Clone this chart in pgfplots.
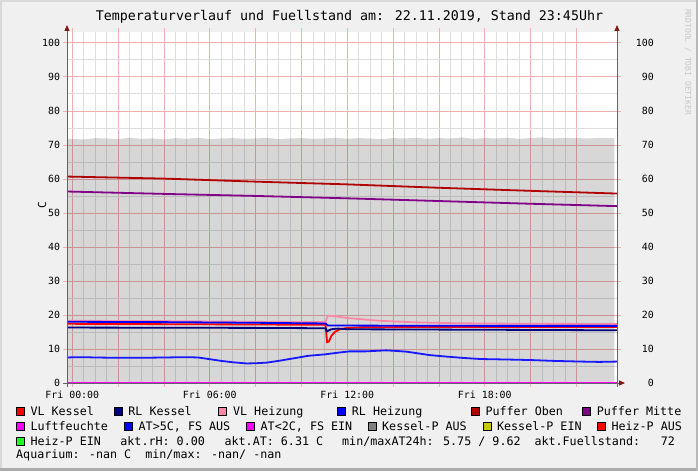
\documentclass[border=0pt]{standalone}
\usepackage{fontspec}
\setmainfont{DejaVu Sans Mono}
\usepackage{pgfplots}
\pgfplotsset{compat=1.18}
\usetikzlibrary{arrows.meta}

\definecolor{bgc}{RGB}{240,240,240}
\definecolor{mgrid}{RGB}{240,176,176}
\definecolor{mingrid}{RGB}{222,222,222}
\definecolor{axc}{RGB}{100,100,100}
\definecolor{arrc}{RGB}{128,24,24}
\definecolor{vlkessel}{RGB}{255,0,0}
\definecolor{rlkessel}{RGB}{0,0,128}
\definecolor{vlheiz}{RGB}{255,136,168}
\definecolor{rlheiz}{RGB}{0,0,255}
\definecolor{pufoben}{RGB}{176,0,0}
\definecolor{pufmitte}{RGB}{128,0,136}
\definecolor{luft}{RGB}{255,0,255}
\definecolor{atblue}{RGB}{24,24,255}
\definecolor{kpaus}{RGB}{128,128,128}
\definecolor{kpein}{RGB}{200,200,0}
\definecolor{hpein}{RGB}{32,255,32}

\newcommand{\lgfont}{\fontsize{11.7}{12}\selectfont}
\newcommand{\lgbox}[3]{% x, y-center, colour
  \filldraw[fill=#3, draw=black, line width=0.6pt] (#1-4,#2-4) rectangle (#1+4,#2+4);}

\begin{document}
\begin{tikzpicture}[x=1pt,y=1pt]
\fill[bgc] (0,0) rectangle (698,471);
\useasboundingbox (0,0) rectangle (698,471);
% frame
\fill[black!15] (0,469) rectangle (698,471);
\fill[black!15] (0,0) rectangle (2,471);
\fill[black!33] (0,0) rectangle (698,3);
\fill[black!28] (696,0) rectangle (698,471);

\node[font=\fontsize{13.3}{14}\selectfont] at (349.5,454) {Temperaturverlauf und Fuellstand am: 22.11.2019, Stand 23:45Uhr};
\node[rotate=90, font=\fontsize{11}{12}\selectfont] at (42,266) {C};
\node[rotate=-90, font=\fontsize{8}{9}\selectfont, text=black!22] at (688,409) {RRDTOOL / TOBI OETIKER};

\begin{axis}[
  at={(67pt,88pt)}, anchor=south west, scale only axis,
  width=550pt, height=351pt,
  xmin=-0.23, xmax=23.77, ymin=0, ymax=103.2,
  xtick={0,2,...,22},
  xticklabels={Fri 00:00,,,Fri 06:00,,,Fri 12:00,,,Fri 18:00,,},
  minor x tick num=3,
  ytick={0,10,...,100}, minor y tick num=1,
  grid=both,
  major grid style={color=mgrid, line width=0.8pt},
  minor grid style={color=mingrid, line width=0.8pt},
  axis line style={draw=none},
  tick align=outside, major tick length=4pt, minor tick length=0pt,
  tick style={color=mgrid, line width=0.8pt},
  ticklabel style={font=\fontsize{9.9}{10}\selectfont, inner sep=0pt},
  yticklabel style={anchor=east, xshift=-2.7pt},
  xticklabel style={anchor=north, yshift=-4pt},
  /pgf/number format/assume math mode=true,
  clip=false,
  axis background/.style={fill=white},
]
% Fuellstand area
\addplot[draw=none, fill=black, fill opacity=0.155] coordinates {
 (-0.23,71.8) (0.5,71.6) (1,72.0) (1.5,71.9) (2,71.7) (2.5,72.1) (3,71.8) (3.5,71.9)
 (4,71.6) (4.5,72.0) (5,71.8) (5.5,72.1) (6,71.7) (6.5,71.9) (7,72.0) (7.5,71.8)
 (8,71.9) (8.5,72.1) (9,71.7) (9.5,71.9) (10,72.0) (10.5,71.8) (11,71.9) (11.5,72.1)
 (12,71.8) (12.5,72.0) (13,71.9) (13.5,71.7) (14,72.0) (14.5,71.9) (15,72.1) (15.5,71.8)
 (16,72.0) (16.5,71.9) (17,72.2) (17.5,71.8) (18,72.0) (18.5,71.9) (19,72.1) (19.5,71.8)
 (20,72.0) (20.5,72.2) (21,71.9) (21.5,72.1) (22,72.0) (22.5,71.9) (23,72.1) (23.65,72.0)
} \closedcycle;

% VL Kessel
\addplot[vlkessel, line width=1.8pt] coordinates {
 (-0.23,17.4) (4,17.3) (8,17.2) (11.05,17.1) (11.12,12.0) (11.2,12.2) (11.3,13.8)
 (11.45,15.0) (11.65,15.7) (11.9,16.1) (12.3,16.3) (13,16.4) (18,16.5) (23.77,16.5)
};
% RL Kessel
\addplot[rlkessel, line width=1.8pt] coordinates {
 (-0.23,16.3) (4,16.25) (8,16.2) (11.05,16.1) (11.12,15.2) (11.3,15.8) (11.6,16.0)
 (12,15.8) (16,15.7) (20,15.6) (23.77,15.5)
};
% VL Heizung
\addplot[vlheiz, line width=1.8pt] coordinates {
 (-0.23,18.3) (4,18.2) (8,18.0) (11.05,17.9) (11.15,19.8) (11.5,19.6) (12,19.1)
 (13.4,18.3) (14.9,17.85) (16.5,17.6) (17.8,17.5) (20,17.4) (23.77,17.35)
};
% RL Heizung
\addplot[rlheiz, line width=1.8pt] coordinates {
 (-0.23,18.0) (4,17.9) (8,17.7) (11.05,17.5) (11.15,16.9) (14,16.85) (18,16.8) (23.77,16.8)
};
% Puffer Oben
\addplot[pufoben, line width=1.8pt] coordinates {
 (-0.23,60.7) (4,60.1) (8,59.2) (12,58.4) (16,57.4) (20,56.5) (23.77,55.7)
};
% Puffer Mitte
\addplot[pufmitte, line width=1.8pt] coordinates {
 (-0.23,56.3) (4,55.6) (8,55.0) (12,54.3) (16,53.5) (20,52.7) (23.77,52.0)
};
% Aussentemperatur
\addplot[atblue, line width=1.8pt] coordinates {
 (-0.23,7.5) (0,7.55) (0.5,7.6) (1,7.5) (2,7.4) (3,7.4) (4,7.5) (5,7.6) (5.5,7.5)
 (6,7.0) (6.5,6.5) (7,6.1) (7.6,5.75) (8,5.8) (8.5,6.0) (9,6.5) (9.7,7.3) (10.3,8.0)
 (11,8.4) (11.7,9.0) (12.1,9.3) (12.8,9.3) (13.7,9.6) (14.2,9.4) (14.6,9.2) (15.1,8.7)
 (15.6,8.2) (16.35,7.75) (17,7.4) (17.8,7.05) (19,6.9) (20,6.75) (21,6.5) (22.2,6.3)
 (23,6.2) (23.77,6.3)
};
% Luftfeuchte
\addplot[luft, line width=1.8pt] coordinates {(-0.23,0) (23.77,0)};

% axis lines with arrows
\draw[axc, line width=1pt, -{Triangle[length=6pt,width=5pt,color=arrc]}]
  ([yshift=-4pt]rel axis cs:0,0) -- ([yshift=7pt]rel axis cs:0,1);
\draw[axc, line width=1pt, -{Triangle[length=6pt,width=5pt,color=arrc]}]
  ([yshift=-4pt]rel axis cs:1,0) -- ([yshift=7pt]rel axis cs:1,1);
\draw[axc, line width=1pt, -{Triangle[length=6pt,width=5pt,color=arrc]}]
  ([xshift=-4pt]rel axis cs:0,0) -- ([xshift=8pt]rel axis cs:1,0);
\end{axis}

% right-hand tick labels
\begin{axis}[
  at={(67pt,88pt)}, anchor=south west, scale only axis,
  width=550pt, height=351pt,
  xmin=-0.23, xmax=23.77, ymin=0, ymax=103.2,
  hide x axis, axis y line*=right, y axis line style={draw=none},
  ytick={0,10,...,100}, major tick length=0pt,
  ticklabel style={font=\fontsize{9.9}{10}\selectfont, inner sep=0pt},
  yticklabel style={anchor=east, xshift=37pt},
  /pgf/number format/assume math mode=true,
]
\end{axis}

% legend
\begin{scope}[every node/.style={anchor=base west, inner sep=0pt, font=\lgfont}]
% row 1
\lgbox{20.5}{60}{vlkessel}   \node at (30.3,56) {VL Kessel};
\lgbox{118.5}{60}{rlkessel}  \node at (128.2,56) {RL Kessel};
\lgbox{222.5}{60}{vlheiz}    \node at (232.9,56) {VL Heizung};
\lgbox{341.5}{60}{rlheiz}    \node at (351.7,56) {RL Heizung};
\lgbox{475}{60}{pufoben}     \node at (485.3,56) {Puffer Oben};
\lgbox{586.5}{60}{pufmitte}  \node at (596.6,56) {Puffer Mitte};
% row 2
\lgbox{20.5}{45}{luft}       \node at (30.3,41) {Luftfeuchte};
\lgbox{128.5}{45}{rlheiz}    \node at (138.5,41) {AT>5C, FS AUS};
\lgbox{250.5}{45}{luft}      \node at (260.5,41) {AT<2C, FS EIN};
\lgbox{372}{45}{kpaus}       \node at (382,41) {Kessel-P AUS};
\lgbox{487}{45}{kpein}       \node at (496.9,41) {Kessel-P EIN};
\lgbox{601.5}{45}{vlkessel}  \node at (611.3,41) {Heiz-P AUS};
% row 3
\lgbox{20.5}{30}{hpein}      \node at (30.3,26) {Heiz-P EIN};
\node at (120.2,26) {akt.rH: 0.00};
\node at (224.4,26) {akt.AT: 6.31 C};
\node at (342,26) {min/maxAT24h: 5.75 / 9.62};
\node at (534.3,26) {akt.Fuellstand:};
\node at (660.7,26) {72};
% row 4
\node at (16,13) {Aquarium: -nan C\ \ min/max: -nan/ -nan};
\end{scope}
\end{tikzpicture}
\end{document}
